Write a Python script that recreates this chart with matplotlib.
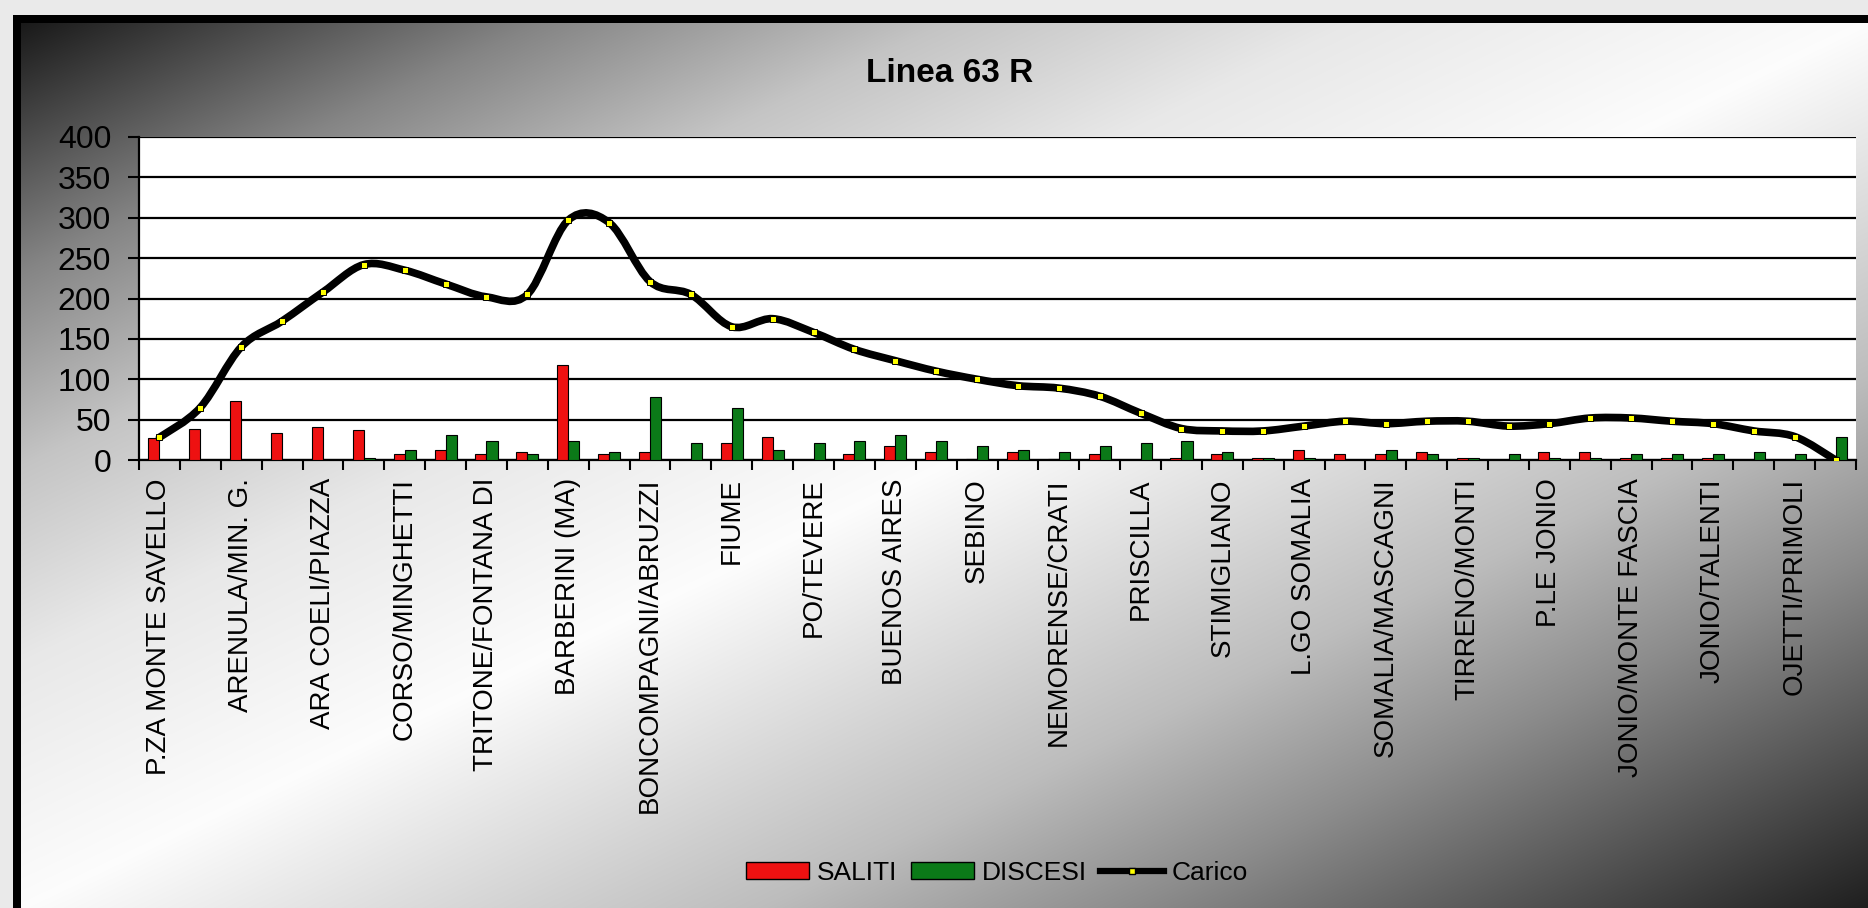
import numpy as np
import matplotlib
matplotlib.use('Agg')
import matplotlib.pyplot as plt
from matplotlib.path import Path
from matplotlib.patches import PathPatch, Patch
from matplotlib.lines import Line2D

plt.rcParams['font.family'] = ['Liberation Sans', 'DejaVu Sans']

# fermate (una etichetta ogni due fermate)
labels = ['P.ZA MONTE SAVELLO', 'ARENULA/MIN. G.', 'ARA COELI/PIAZZA', 'CORSO/MINGHETTI',
          'TRITONE/FONTANA DI', 'BARBERINI (MA)', 'BONCOMPAGNI/ABRUZZI', 'FIUME',
          'PO/TEVERE', 'BUENOS AIRES', 'SEBINO', 'NEMORENSE/CRATI', 'PRISCILLA',
          'STIMIGLIANO', 'L.GO SOMALIA', 'SOMALIA/MASCAGNI', 'TIRRENO/MONTI',
          'P.LE JONIO', 'JONIO/MONTE FASCIA', 'JONIO/TALENTI', 'OJETTI/PRIMOLI']

saliti = [27, 38, 73, 34, 41, 37, 7, 13, 7, 10, 118, 7, 10, 0, 21, 28, 0, 7, 17, 10, 1,
          10, 1, 7, 0, 2, 7, 2, 13, 7, 7, 10, 2, 0, 10, 10, 2, 2, 2, 0, 0, 0]
discesi = [0, 0, 0, 0, 0, 2, 13, 31, 24, 7, 24, 10, 78, 21, 64, 13, 21, 24, 31, 24, 17,
           13, 10, 17, 21, 24, 10, 2, 2, 0, 13, 7, 2, 7, 2, 2, 7, 7, 7, 10, 7, 28]
carico = [28, 65, 140, 172, 208, 242, 235, 218, 202, 205, 297, 294, 221, 205, 165, 175,
          158, 137, 123, 110, 100, 92, 89, 79, 58, 39, 36, 36, 42, 48, 45, 48, 48, 42,
          45, 52, 52, 48, 45, 36, 29, 0]

n = len(carico)
x = np.arange(n)

W, H = 1868, 908
fig = plt.figure(figsize=(W / 100, H / 100), dpi=100)
fig.patch.set_facecolor('#e6e6e6')

# sfondo sfumato del pannello
bg = fig.add_axes([0, 0, 1, 1], zorder=-5)
px, py = np.meshgrid(np.arange(W), np.arange(H))
s = (px - 21) / (W - 21) + (py - 23) / (H - 23)
lev = np.interp(s, [0, 0.28, 0.5, 0.72, 1.0, 1.4, 1.6, 2.0],
                [0.1, 0.52, 0.77, 0.91, 0.99, 0.74, 0.55, 0.12])
img = np.dstack([lev, lev, lev])
img[:15, :] = 0.92
img[:, :13] = 0.92
img[15:23, 13:] = 0.0
img[15:, 13:21] = 0.0
bg.imshow(img, extent=(0, W, H, 0), aspect='auto', interpolation='nearest')
bg.set_xlim(0, W)
bg.set_ylim(H, 0)
bg.axis('off')

ax = fig.add_axes([139 / W, 1 - 460 / H, (1856 - 139) / W, (460 - 137) / H])
ax.set_facecolor('white')

bw = 0.27
ax.bar(x - bw / 2, saliti, width=bw, color='#ee1111', edgecolor='black', linewidth=0.8, zorder=3)
ax.bar(x + bw / 2, discesi, width=bw, color='#0b7a18', edgecolor='black', linewidth=0.8, zorder=3)

# linea smussata (come in Excel)
verts = [(x[0], carico[0])]
codes = [Path.MOVETO]
for i in range(n - 1):
    i0, i3 = max(i - 1, 0), min(i + 2, n - 1)
    c1 = (x[i] + (x[i + 1] - x[i0]) / 6, carico[i] + (carico[i + 1] - carico[i0]) / 6)
    c2 = (x[i + 1] - (x[i3] - x[i]) / 6, carico[i + 1] - (carico[i3] - carico[i]) / 6)
    verts += [c1, c2, (x[i + 1], carico[i + 1])]
    codes += [Path.CURVE4] * 3
ax.add_patch(PathPatch(Path(verts, codes), facecolor='none', edgecolor='black',
                       linewidth=5.5, capstyle='round', joinstyle='round', zorder=4))
ax.plot(x, carico, ls='none', marker='s', ms=5, mfc='yellow', mec='black', mew=0.7, zorder=5)

ax.set_xlim(-0.5, n - 0.5)
ax.set_ylim(0, 400)
ax.set_yticks(range(0, 401, 50))
ax.yaxis.grid(True, color='black', linewidth=1.6)
ax.set_axisbelow(True)
for sp in ['top', 'right']:
    ax.spines[sp].set_visible(False)
ax.spines['left'].set_linewidth(1.6)
ax.spines['bottom'].set_linewidth(1.6)

ax.set_xticks(x[::2])
ax.set_xticklabels(labels, rotation=90, fontsize=20)
ax.set_xticks(np.arange(-0.5, n, 1), minor=True)
ax.tick_params(axis='x', which='major', length=0, pad=13)
ax.tick_params(axis='x', which='minor', length=7, width=1.5, direction='out')
ax.tick_params(axis='y', length=8, width=1.5, pad=12, labelsize=23)

fig.text(950 / W, 1 - 73 / H, 'Linea 63 R', ha='center', va='center', fontsize=24, fontweight='bold')

handles = [Patch(facecolor='#ee1111', edgecolor='black'),
           Patch(facecolor='#0b7a18', edgecolor='black'),
           Line2D([], [], color='black', lw=4.5, marker='s', ms=5, mfc='yellow', mec='black')]
fig.legend(handles, ['SALITI', 'DISCESI', 'Carico'], loc='center', bbox_to_anchor=(997 / W, 1 - 873 / H),
           ncol=3, frameon=False, fontsize=19, handlelength=2.4, handleheight=0.6,
           handletextpad=0.3, columnspacing=0.5)

fig.savefig('out.png', dpi=100)
